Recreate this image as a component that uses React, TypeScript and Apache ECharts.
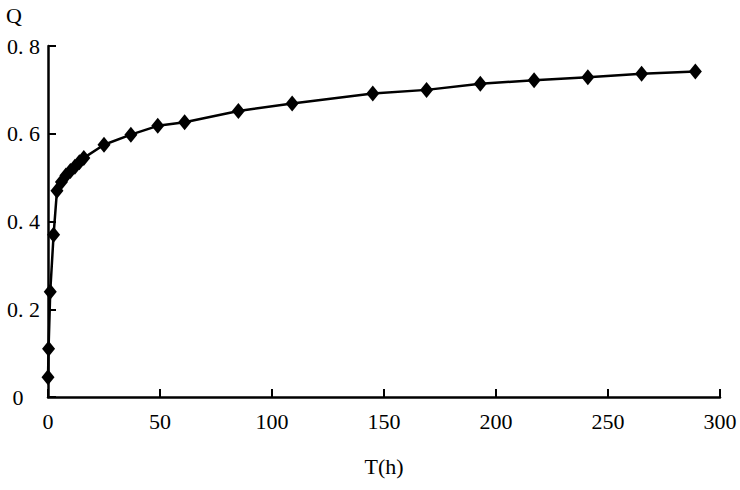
import React, { useEffect, useRef } from "react";
import * as echarts from "echarts";

const timeHours = [0, 0.25, 1, 2.5, 4, 6, 8, 10, 12, 14, 16, 25, 37, 49, 61, 85, 109, 145, 169, 193, 217, 241, 265, 289];
const qValues = [0.045, 0.11, 0.24, 0.37, 0.47, 0.49, 0.505, 0.515, 0.525, 0.535, 0.545, 0.575, 0.598, 0.618, 0.626, 0.652, 0.669, 0.692, 0.7, 0.714, 0.722, 0.729, 0.737, 0.742];
const xTicks = [0, 50, 100, 150, 200, 250, 300];
const yTicks = [0, 0.2, 0.4, 0.6, 0.8];

export default function App() {
  const ref = useRef<HTMLDivElement>(null);
  useEffect(() => {
    if (!ref.current) return;
    const chart = echarts.init(ref.current, null, { renderer: "svg" });
    const font = "'Liberation Serif', 'DejaVu Serif', serif";
    chart.setOption({
      animation: false,
      backgroundColor: "#ffffff",
      grid: { left: 48, right: 20, top: 46, bottom: 93, containLabel: false },
      xAxis: {
        type: "value",
        min: 0,
        max: 300,
        interval: 50,
        name: "T(h)",
        nameLocation: "middle",
        nameGap: 58,
        nameTextStyle: { fontFamily: font, fontSize: 22, color: "#000" },
        axisLine: { show: true, lineStyle: { color: "#000", width: 2.5 } },
        axisTick: { show: true, inside: true, length: 8, lineStyle: { color: "#000", width: 2 } },
        axisLabel: { color: "#000", fontFamily: font, fontSize: 22, margin: 13, formatter: (v: number) => (xTicks.includes(v) ? String(v) : "") },
        splitLine: { show: false },
      },
      yAxis: {
        type: "value",
        min: 0,
        max: 0.8,
        interval: 0.2,
        name: "Q",
        nameLocation: "end",
        nameGap: 20,
        nameTextStyle: { fontFamily: font, fontSize: 22, color: "#000", align: "left", padding: [0, 0, 0, -42] },
        axisLine: { show: true, lineStyle: { color: "#000", width: 2.5 } },
        axisTick: { show: true, inside: true, length: 8, lineStyle: { color: "#000", width: 2 } },
        axisLabel: {
          color: "#000",
          fontFamily: font,
          fontSize: 22,
          align: "left",
          margin: 41,
          formatter: (v: number) => {
            const t = yTicks.find((y) => Math.abs(y - v) < 1e-6);
            if (t === undefined) return "";
            if (t === 0) return " 0";
            return t.toFixed(1).replace(".", ". ");
          },
        },
        splitLine: { show: false },
      },
      series: [
        {
          type: "line",
          data: timeHours.map((t, i) => [t, qValues[i]]),
          symbol: "diamond",
          symbolSize: [13, 16],
          itemStyle: { color: "#000" },
          lineStyle: { color: "#000", width: 2.5 },
          smooth: false,
        },
      ],
    });
    return () => chart.dispose();
  }, []);
  return <div ref={ref} style={{ width: 740, height: 490, position: "absolute", left: 0, top: 0 }} />;
}
